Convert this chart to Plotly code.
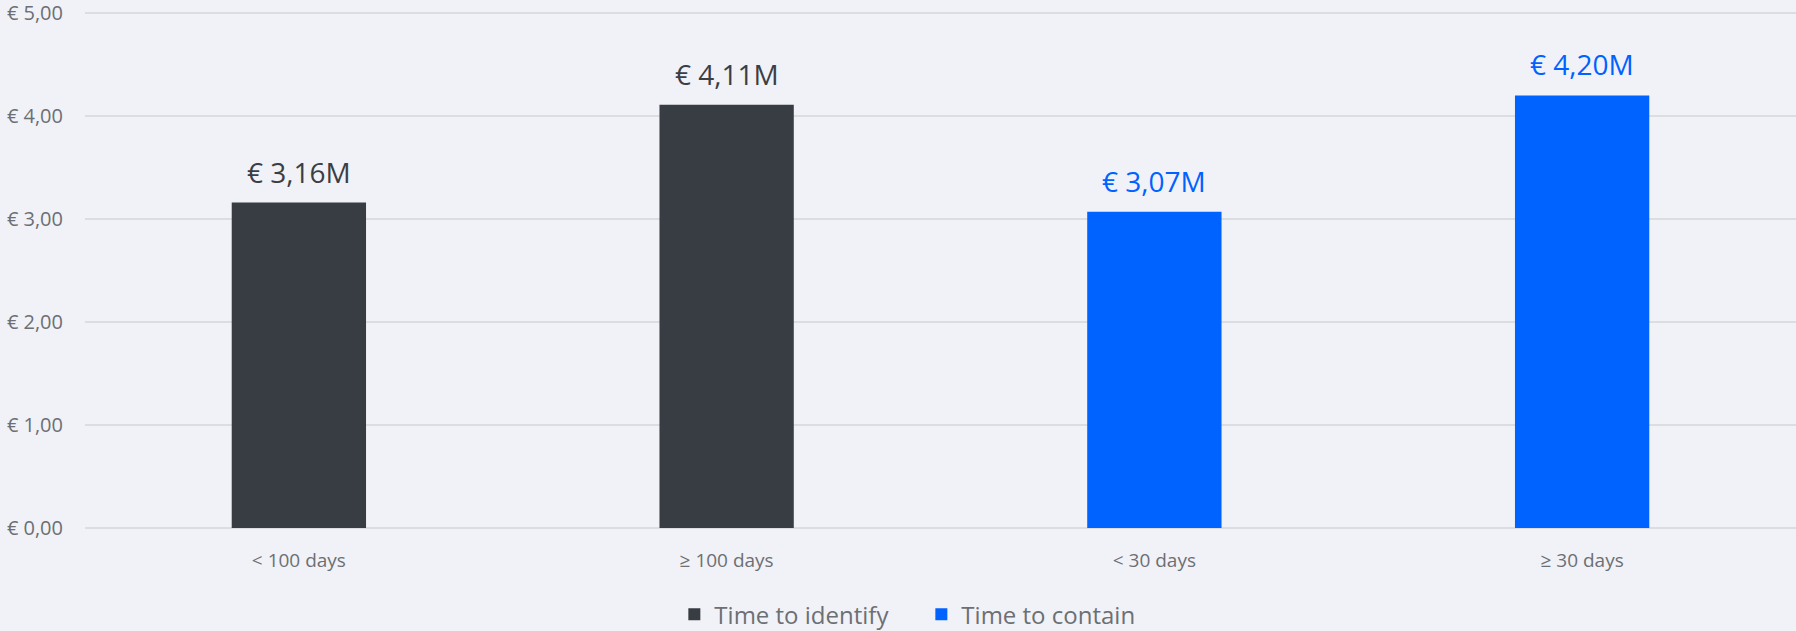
import plotly.graph_objects as go

identify_cats = ["< 100 days", "≥ 100 days"]
identify_vals = [3.16, 4.11]
contain_cats = ["< 30 days", "≥ 30 days"]
contain_vals = [3.07, 4.20]
y_ticks = [0, 1, 2, 3, 4, 5]

DARK = "#383c43"
BLUE = "#0062ff"
GRID = "#dcdde1"
TXT = "#6c6f74"
BG = "#f1f2f7"
FONT = "Open Sans, sans-serif"


def eur(v, suffix=""):
    return "€ " + f"{v:.2f}".replace(".", ",") + suffix


fig = go.Figure()
fig.add_trace(go.Bar(
    x=identify_cats, y=identify_vals, name="Time to identify",
    marker=dict(color=DARK, line=dict(width=0)), width=0.314,
))
fig.add_trace(go.Bar(
    x=contain_cats, y=contain_vals, name="Time to contain",
    marker=dict(color=BLUE, line=dict(width=0)), width=0.314,
))

annotations = []
for cats, vals, col in [(identify_cats, identify_vals, "#3b3e45"),
                        (contain_cats, contain_vals, BLUE)]:
    for c, v in zip(cats, vals):
        annotations.append(dict(
            x=c, y=v, xref="x", yref="y", text=eur(v, "M"), showarrow=False,
            yanchor="bottom", yshift=10,
            font=dict(size=28, color=col, family=FONT)))

fig.update_layout(
    width=1796, height=631,
    paper_bgcolor=BG, plot_bgcolor=BG,
    barmode="overlay",
    font=dict(family=FONT, color=TXT, size=18),
    margin=dict(l=85, r=0, t=11, b=103, autoexpand=False),
    showlegend=True,
    annotations=annotations,
    legend=dict(orientation="h", xref="container", yref="container",
                x=0.513, xanchor="center", y=0.026, yanchor="middle",
                font=dict(size=24, color=TXT), itemwidth=30, traceorder="normal",
                entrywidth=202),
    xaxis=dict(categoryorder="array", categoryarray=identify_cats + contain_cats,
               showgrid=False, showline=False, zeroline=False, automargin=False,
               ticks="outside", ticklen=15, tickcolor="rgba(0,0,0,0)",
               tickfont=dict(size=19, color=TXT)),
    yaxis=dict(range=[0, 5.02], tickmode="array", tickvals=y_ticks,
               ticktext=[eur(t) for t in y_ticks], automargin=False,
               ticklabeloverflow="allow",
               showgrid=True, gridcolor=GRID, gridwidth=2, zeroline=True,
               zerolinecolor=GRID, zerolinewidth=2, showline=False,
               ticks="outside", ticklen=17, tickcolor="rgba(0,0,0,0)",
               tickfont=dict(size=20, color=TXT)),
)

fig.write_html("out.html", config=dict(displayModeBar=False),
               post_script="document.body.style.margin='0';document.body.style.overflow='hidden';")
